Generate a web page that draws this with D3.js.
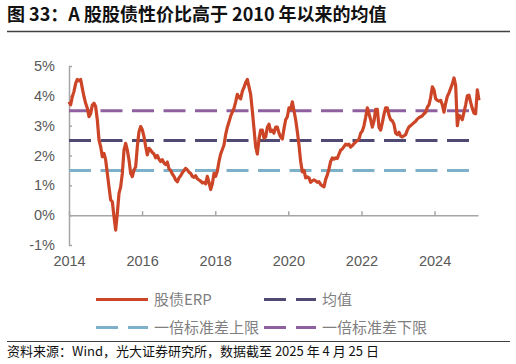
<!DOCTYPE html>
<html><head><meta charset="utf-8">
<script src="https://cdn.jsdelivr.net/npm/d3@7"></script>
<style>
html,body{margin:0;padding:0;background:#fff;}
svg{display:block;}
</style></head>
<body><svg id="chart" width="516" height="364"></svg>
<script>
// ---- data ----
const titleText = "图 33：A 股股债性价比高于 2010 年以来的均值";
const sourceText = "资料来源：Wind，光大证券研究所，数据截至 2025 年 4 月 25 日";
const yTicks = [-1, 0, 1, 2, 3, 4, 5];
const xTickYears = [2014, 2016, 2018, 2020, 2022, 2024];
const seriesStart = "2014-01-01";
const stepDays = 16.65; // roughly semi-monthly sampling
const erpValues = [
 3.80,3.70,3.97,4.15,4.42,4.55,4.50,4.55,4.25,3.97,3.75,3.58,3.30,3.41,3.69,3.75,3.64,3.19,2.52,2.30,
 1.96,2.07,1.85,1.40,0.95,0.51,0.45,-0.05,-0.50,0.06,0.73,0.95,1.40,2.18,2.41,2.18,1.85,1.40,1.29,1.51,
 1.62,2.30,2.80,2.97,2.86,2.63,2.30,2.02,2.24,2.18,2.10,2.05,1.92,2.00,1.88,1.80,1.86,1.75,1.70,1.78,
 1.55,1.50,1.38,1.30,1.18,1.12,1.25,1.32,1.42,1.50,1.57,1.52,1.44,1.40,1.30,1.27,1.32,1.22,1.18,1.14,
 1.08,1.10,1.05,1.30,1.10,0.86,1.05,1.40,1.30,1.48,1.80,2.05,2.20,2.35,2.70,2.95,3.12,3.32,3.45,3.58,
 3.80,4.05,3.95,3.90,4.15,4.28,4.45,4.55,4.30,4.05,3.50,2.90,2.30,2.05,2.55,2.85,2.85,2.58,2.62,2.95,
 3.05,2.80,2.85,2.75,2.95,2.95,2.75,2.62,2.55,2.90,3.20,3.30,3.60,3.55,3.80,3.50,3.20,2.80,2.35,1.80,
 1.45,1.50,1.25,1.28,1.25,1.10,1.15,1.18,1.15,1.10,1.12,1.03,0.98,0.95,1.20,1.35,1.55,1.80,1.92,1.88,
 1.92,1.90,2.05,2.18,2.22,2.30,2.38,2.35,2.38,2.28,2.33,2.40,2.45,2.50,2.55,2.75,2.82,3.00,3.28,3.60,
 3.40,3.20,2.95,3.15,3.55,3.55,2.95,2.85,3.10,3.38,3.60,3.60,3.35,3.20,3.16,3.05,2.75,2.70,2.78,2.65,
 2.62,2.66,2.70,2.85,2.96,3.00,3.05,3.10,3.15,3.22,3.27,3.30,3.33,3.40,3.45,3.62,3.70,3.95,4.30,4.20,
 3.90,3.85,3.82,3.85,3.70,3.45,3.75,3.98,4.10,4.25,4.40,4.60,4.35,3.00,3.35,3.30,3.20,3.45,3.70,4.00,
 4.02,3.78,3.58,3.42,3.40,4.20,3.85
];
const meanLevel = 2.5;
const upperLevel = 1.5;   // 一倍标准差上限
const lowerLevel = 3.5;   // 一倍标准差下限
const refLineStart = "2014-01-01";
const refLineEnd = "2025-01-01";
const legendNames = ["股债ERP", "均值", "一倍标准差上限", "一倍标准差下限"];

// ---- styles ----
const C_ERP = "#cc4527", C_MEAN = "#4f4a74", C_UP = "#7eb1c9", C_LOW = "#8f60a0";
const AXIS = "#a6a6a6", LABEL = "#595959";
const cjk = "'Noto Sans CJK SC', 'Noto Sans', sans-serif";
const latin = "'Liberation Sans', Arial, sans-serif";

const svg = d3.select("#chart");
const parse = d3.timeParse("%Y-%m-%d");
const start = parse(seriesStart);
const dates = erpValues.map((v, i) => new Date(start.getTime() + i * stepDays * 864e5));
const data = erpValues.map((v, i) => ({date: dates[i], v}));

const x = d3.scaleTime().domain([parse("2014-01-01"), parse("2025-03-10")]).range([69, 478]);
const y = d3.scaleLinear().domain([-1, 5]).range([245, 66]);

// title
svg.append("text").attr("x", 7).attr("y", 21).text(titleText)
  .attr("font-family", cjk).attr("font-weight", "bold").attr("font-size", 18).attr("fill", "#111");
svg.append("line").attr("x1", 7).attr("x2", 510).attr("y1", 31.5).attr("y2", 31.5)
  .attr("stroke", "#404040").attr("stroke-width", 1.3);

// y axis
const yAxis = svg.append("g").attr("transform", `translate(${x.range()[0]},0)`)
  .call(d3.axisLeft(y).tickValues(yTicks).tickSizeInner(-3).tickSizeOuter(0).tickPadding(14).tickFormat(d => d + "%"));
yAxis.selectAll("path,line").attr("stroke", AXIS).attr("stroke-width", 1.5);
yAxis.selectAll("text").attr("font-family", latin).attr("font-size", 14.5).attr("fill", LABEL);

// zero axis with upward ticks
const zeroAxis = svg.append("g").attr("transform", `translate(0,${y(0)})`)
  .call(d3.axisBottom(x).tickValues(xTickYears.map(yr => new Date(yr, 0, 1))).tickSizeInner(-4).tickSizeOuter(0).tickFormat(""));
zeroAxis.selectAll("path,line").attr("stroke", AXIS).attr("stroke-width", 1.5);

// x labels at bottom
const xLab = svg.append("g").attr("transform", `translate(0,${y(-1)})`)
  .call(d3.axisBottom(x).tickValues(xTickYears.map(yr => new Date(yr, 0, 1))).tickSize(0).tickPadding(11).tickFormat(d3.timeFormat("%Y")));
xLab.select(".domain").remove();
xLab.selectAll("text").attr("font-family", latin).attr("font-size", 14.5).attr("fill", LABEL);

// reference lines
const refs = [
  {v: lowerLevel, c: C_LOW},
  {v: meanLevel, c: C_MEAN},
  {v: upperLevel, c: C_UP}
];
svg.append("g").selectAll("line").data(refs).join("line")
  .attr("x1", x(parse(refLineStart))).attr("x2", x(parse(refLineEnd)))
  .attr("y1", d => y(d.v)).attr("y2", d => y(d.v))
  .attr("stroke", d => d.c).attr("stroke-width", 3).attr("stroke-dasharray", "22 9.5");

// ERP line
svg.append("path").datum(data)
  .attr("d", d3.line().x(d => x(d.date)).y(d => y(d.v)))
  .attr("fill", "none").attr("stroke", C_ERP).attr("stroke-width", 3.2).attr("stroke-linejoin", "round");

// legend
const leg = [
  {name: legendNames[0], c: C_ERP, dash: null, lx: 96, ly: 299.5},
  {name: legendNames[1], c: C_MEAN, dash: "22 10", lx: 264, ly: 299.5},
  {name: legendNames[2], c: C_UP, dash: "22 10", lx: 96, ly: 327.5},
  {name: legendNames[3], c: C_LOW, dash: "22 10", lx: 264, ly: 327.5}
];
const lg = svg.append("g").selectAll("g").data(leg).join("g");
lg.append("line").attr("x1", d => d.lx).attr("x2", d => d.lx + 52)
  .attr("y1", d => d.ly).attr("y2", d => d.ly)
  .attr("stroke", d => d.c).attr("stroke-width", 3).attr("stroke-dasharray", d => d.dash);
lg.append("text").attr("x", d => d.lx + 58).attr("y", d => d.ly).attr("dy", "0.35em")
  .text(d => d.name).attr("font-family", cjk).attr("font-size", 15).attr("fill", "#7f7f7f");

// source
svg.append("line").attr("x1", 7).attr("x2", 510).attr("y1", 341.5).attr("y2", 341.5)
  .attr("stroke", "#404040").attr("stroke-width", 1.2);
svg.append("text").attr("x", 7).attr("y", 356).text(sourceText)
  .attr("font-family", cjk).attr("font-size", 13).attr("fill", "#111");
</script></body></html>
